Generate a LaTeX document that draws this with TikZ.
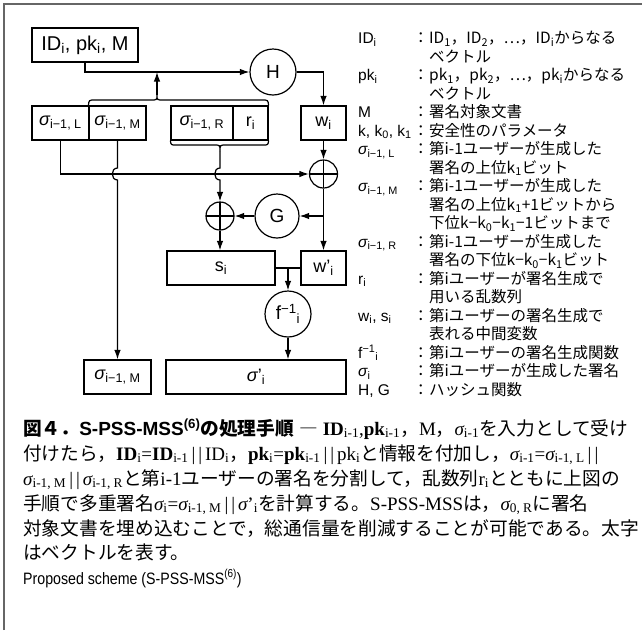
\documentclass[tikz,border=0pt]{standalone}
\usepackage{fontspec}
\setmainfont{Liberation Sans}
\newfontfamily\jp{Noto Sans CJK JP}
\newfontfamily\tms{Liberation Serif}
\newfontfamily\hel{Liberation Sans}
\newfontfamily\helnarrow[FakeStretch=0.86]{Liberation Sans}
\usetikzlibrary{arrows.meta}
\XeTeXinterchartokenstate=1
\XeTeXinterchartoks 1 1 = {\hskip 0pt plus 2pt\relax}
\XeTeXinterchartoks 1 3 = {\hskip 0pt plus 2pt\relax}
\XeTeXinterchartoks 3 1 = {\hskip 0pt plus 2pt\relax}
\newcommand\sbs[1]{\textsubscript{#1}}
\newcommand\sps[1]{\textsuperscript{#1}}
\newcommand\sig{{\itshape σ}}
\newcommand\J[1]{{\fontsize{18.7}{25}\selectfont\jp #1}}
\newcommand\bars{\hspace{3pt}|\hspace{3pt}|\hspace{3pt}}
\newcommand\finv{f\textsuperscript{−1}\textsubscript{i}}
\begin{document}
\begin{tikzpicture}[x=1pt,y=-1pt,
  lw/.style={line width=1.2pt},
  box/.style={draw, lw, minimum height=34pt, inner sep=0pt, font=\fontsize{18}{18}\selectfont},
  circ/.style={draw, circle, lw, minimum size=46pt, inner sep=0pt, font=\fontsize{19}{19}\selectfont},
  xorn/.style={draw, circle, lw, minimum size=28pt, inner sep=0pt,
    path picture={\draw[lw] (path picture bounding box.north) -- (path picture bounding box.south)
      (path picture bounding box.west) -- (path picture bounding box.east);}},
  arr/.style={lw, -{Latex[length=9.5pt,width=6.5pt]}},
  leg/.style={anchor=base west, inner sep=0pt, font=\fontsize{15.5}{18}\selectfont},
  legj/.style={anchor=base west, inner sep=0pt, font=\fontsize{15.5}{18}\selectfont\jp},
  captxt/.style={anchor=base west, inner sep=0pt, font=\fontsize{19}{25}\selectfont\tms}
]
\useasboundingbox (0,0) rectangle (642,630);
\draw[black!60, line width=1.5pt] (4,630) -- (4,4) -- (642,4);

% ---------- diagram nodes ----------
\node[box, minimum width=106pt, font=\fontsize{20}{20}\selectfont] (idb) at (85,45) {ID\sbs{i}, pk\sbs{i}, M};
\node[circ] (H) at (273,72) {H};
\node[box, minimum width=57pt] (sL) at (60.5,123) {\sig\sbs{i−1, L}};
\node[box, minimum width=57pt] (sM) at (117.5,123) {\sig\sbs{i−1, M}};
\node[box, minimum width=62pt] (sR) at (202,123) {\sig\sbs{i−1, R}};
\node[box, minimum width=35pt] (ri) at (250.5,123) {r\sbs{i}};
\node[box, minimum width=45pt] (wb) at (323.5,123) {w\sbs{i}};
\node[xorn] (x1) at (323.5,174) {};
\node[xorn] (x2) at (220,216) {};
\node[circ, minimum size=44pt] (G) at (277,216) {G};
\node[box, minimum width=108pt] (sb) at (221,268) {s\sbs{i}};
\node[box, minimum width=45pt] (wp) at (323.5,268) {w’\sbs{i}};
\node[circ] (f) at (288,314) {\finv};
\node[box, minimum width=180pt] (sp) at (256,377) {\sig’\sbs{i}};
\node[box, minimum width=67pt] (sMb) at (117.5,377) {\sig\sbs{i−1, M}};

% braces
\coordinate (ut) at (157,95);
\coordinate (lt) at (220,151);
\draw[lw] (sM.north west) .. controls (89,100) .. (95,100) -- (151,100)
  .. controls (157,100) .. (ut) .. controls (157,100) .. (163,100) -- (262,100)
  .. controls (268,100) .. (ri.north east);
\draw[lw] (sR.south west) .. controls (171,145) .. (176,145) -- (214,145)
  .. controls (220,145) .. (lt) .. controls (220,145) .. (226,145) -- (263,145)
  .. controls (268,145) .. (ri.south east);

% ---------- connectors ----------
\draw[arr] (idb.south) |- (H.west);
\draw[arr] (ut) -- (ut |- H.west);
\draw[arr] (H.east) -| (wb.north);
\draw[arr] (wb.south) -- (x1.north);
\draw[arr] (sL.south) |- (x1.west);
\draw[arr] (sM.south) -- (117.5,168) .. controls (110.5,168) and (110.5,180) .. (117.5,180) -- (sMb.north);
\draw[arr] (lt) -- (220,168) .. controls (213,168) and (213,180) .. (220,180) -- (x2.north);
\draw[arr] (x1.south) -- (wp.north);
\coordinate (br) at (x1.south |- G.east);
\draw[arr] (br) -- (G.east);
\draw[arr] (G.west) -- (x2.east);
\draw[arr] (x2.south) -- (x2.south |- sb.north);
\draw[lw] (sb.east) -- (wp.west);
\coordinate (mid) at (f.north |- sb.east);
\draw[arr] (mid) -- (f.north);
\draw[arr] (f.south) -- (f.south |- sp.north);

% ---------- legend ----------
\foreach \k/\t in {0/{ID\sbs{i}}, 2/{pk\sbs{i}}, 4/{M}, 5/{k, k\sbs{0}, k\sbs{1}},
  6/{\sig\sbs{i−1, L}}, 8/{\sig\sbs{i−1, M}}, 11/{\sig\sbs{i−1, R}}, 13/{r\sbs{i}},
  15/{w\sbs{i}, s\sbs{i}}, 17/{\finv}, 18/{\sig\sbs{i}}, 19/{H, G}}
{
  \node[leg] (lab\k) at (358,43.5+18.5*\k) {\t};
  \node[legj] (col\k) at (413,43.5+18.5*\k) {：};
}
\foreach \k/\t in {
  0/{ID\sbs{1}，ID\sbs{2}，…，ID\sbs{i}からなる},
  1/{ベクトル},
  2/{pk\sbs{1}，pk\sbs{2}，…，pk\sbs{i}からなる},
  3/{ベクトル},
  4/{署名対象文書},
  5/{安全性のパラメータ},
  6/{第i-1ユーザーが生成した},
  7/{署名の上位k\sbs{1}ビット},
  8/{第i-1ユーザーが生成した},
  9/{署名の上位k\sbs{1}+1ビットから},
  10/{下位k−k\sbs{0}−k\sbs{1}−1ビットまで},
  11/{第i-1ユーザーが生成した},
  12/{署名の下位k−k\sbs{0}−k\sbs{1}ビット},
  13/{第iユーザーが署名生成で},
  14/{用いる乱数列},
  15/{第iユーザーの署名生成で},
  16/{表れる中間変数},
  17/{第iユーザーの署名生成関数},
  18/{第iユーザーが生成した署名},
  19/{ハッシュ関数}}
{
  \node[legj] (txt\k) at (429,43.5+18.5*\k) {\t};
}

% ---------- caption ----------
\node[captxt] (c1) at (23,435) {\makebox[602pt][s]{{\bfseries\J{図４．}{\hel S-PSS-MSS}\textsuperscript{\hel (6)}\J{の処理手順}}\hspace{5pt}\J{―}\hspace{5pt}\textbf{ID}\sbs{i-1},\textbf{pk}\sbs{i-1}\J{，}M\J{，}\sig\sbs{i-1}\J{を入力として受け}}};
\node[captxt] (c2) at (23,460) {\makebox[602pt][s]{\J{付けたら，}\textbf{ID}\sbs{i}=\textbf{ID}\sbs{i-1}\bars ID\sbs{i}\J{，}\textbf{pk}\sbs{i}=\textbf{pk}\sbs{i-1}\bars pk\sbs{i}\J{と情報を付加し，}\sig\sbs{i-1}=\sig\sbs{i-1, L}\bars}};
\node[captxt] (c3) at (23,485) {\makebox[602pt][s]{\sig\sbs{i-1, M}\bars\sig\sbs{i-1, R}\J{と第}i-1\J{ユーザーの署名を分割して，乱数列}r\sbs{i}\J{とともに上図の}}};
\node[captxt] (c4) at (23,510) {\makebox[602pt][s]{\J{手順で多重署名}\sig\sbs{i}=\sig\sbs{i-1, M}\bars\sig’\sbs{i}\J{を計算する。}S-PSS-MSS\J{は，}\sig\sbs{0, R}\J{に署名}}};
\node[captxt] (c5) at (23,535) {\makebox[602pt][s]{\J{対象文書を埋め込むことで，総通信量を削減することが可能である。太字}}};
\node[captxt] (c6) at (23,559) {\J{はベクトルを表す。}};
\node[anchor=base west, inner sep=0pt, font=\fontsize{16.5}{18}\selectfont\helnarrow] (c7) at (23,584) {Proposed scheme (S-PSS-MSS\textsuperscript{(6)})};
\end{tikzpicture}
\end{document}
